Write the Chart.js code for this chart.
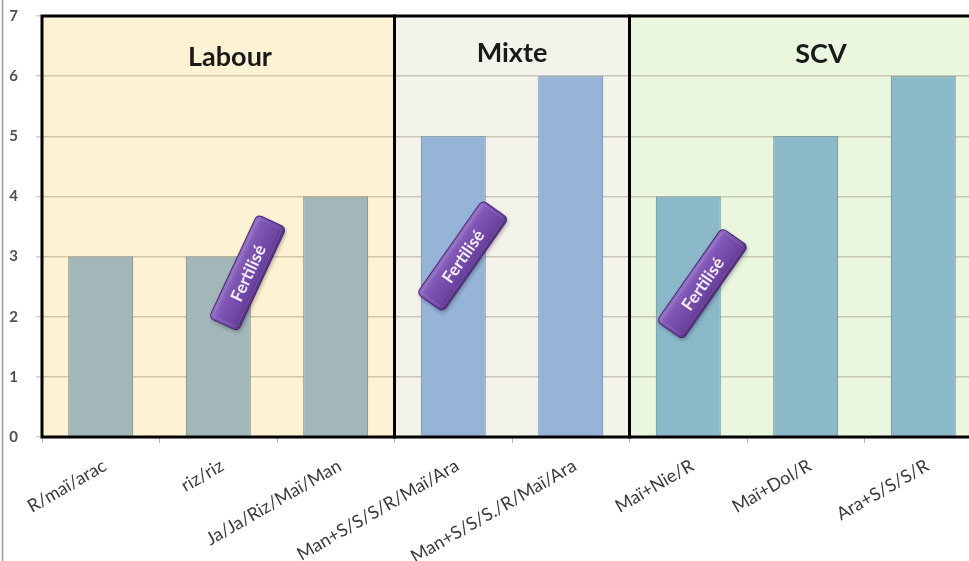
<!DOCTYPE html>
<html>
<head>
<meta charset="utf-8">
<script src="https://cdn.jsdelivr.net/npm/chart.js@4"></script>
<style>
  html, body { margin: 0; padding: 0; background: #fff; overflow: hidden; width: 969px; height: 561px; }
  #wrap { position: relative; width: 990px; height: 561px; }
</style>
</head>
<body>
<div id="wrap"><canvas id="c"></canvas></div>
<script>
// Rotation systems and their scores
const categories = ['R/maï/arac', 'riz/riz', 'Ja/Ja/Riz/Maï/Man', 'Man+S/S/S/R/Maï/Ara',
                    'Man+S/S/S./R/Maï/Ara', 'Maï+Nie/R', 'Maï+Dol/R', 'Ara+S/S/S/R'];
const values = [3, 3, 4, 5, 6, 4, 5, 6];
const yTicks = [0, 1, 2, 3, 4, 5, 6, 7];
const groups = ['Labour', 'Mixte', 'SCV'];
const groupOf = [0, 0, 0, 1, 1, 2, 2, 2];
const fertilised = ['riz/riz', 'Man+S/S/S/R/Maï/Ara', 'Maï+Nie/R'];

// Look of each group
const panelFill = ['#FDF3D4', '#F3F2EB', '#EBF6DF'];
const barFill = ['#A3B6B9', '#95B4D8', '#8BB9CA'];
const barEdge = ['#68797A', '#62809F', '#55828F'];

// Where titles and tags sit (category offset / value units)
const titlePos = [{ at: 1.1, base: 66 }, { at: 3.5, base: 62 }, { at: 6.13, base: 63 }];
const tagPos = [{ dx: 0.25, v: 2.73, rot: -65 }, { dx: 0.08, v: 3.01, rot: -55 }, { dx: 0.12, v: 2.55, rot: -55 }];

const FONT = 'Lato, "Open Sans", sans-serif';

function catGeom(chart) {
  const x = chart.scales.x;
  const w = x.getPixelForValue(1) - x.getPixelForValue(0);
  return { x0: x.getPixelForValue(0), w };
}

function panelBounds(chart) {
  const { x0, w } = catGeom(chart);
  return groups.map((g, gi) => {
    const idx = groupOf.map((v, i) => v === gi ? i : -1).filter(i => i >= 0);
    return { left: x0 + (idx[0] - 0.5) * w, right: x0 + (idx[idx.length - 1] + 0.5) * w };
  });
}

const panels = {
  id: 'panels',
  beforeDraw(chart) {
    const { ctx, chartArea: a } = chart;
    ctx.save();
    panelBounds(chart).forEach((p, gi) => {
      ctx.fillStyle = panelFill[gi];
      ctx.fillRect(p.left, a.top, p.right - p.left, a.bottom - a.top);
    });
    ctx.restore();
  },
  afterDatasetsDraw(chart) {
    const { ctx, chartArea: a } = chart;
    const { x0, w } = catGeom(chart);
    ctx.save();
    // panel frames
    ctx.strokeStyle = '#000';
    ctx.lineWidth = 3;
    panelBounds(chart).forEach(p => {
      ctx.strokeRect(p.left, a.top, p.right - p.left, a.bottom - a.top);
    });
    // panel titles
    ctx.fillStyle = '#1a1a1a';
    ctx.font = 'bold 27px ' + FONT;
    ctx.textAlign = 'center';
    ctx.textBaseline = 'alphabetic';
    groups.forEach((g, gi) => {
      ctx.fillText(g, x0 + titlePos[gi].at * w, titlePos[gi].base);
    });
    // "Fertilisé" tags
    const y = chart.scales.y;
    fertilised.forEach((name, k) => {
      const i = categories.indexOf(name);
      const t = tagPos[k];
      const cx = x0 + (i + t.dx) * w;
      const cy = y.getPixelForValue(t.v);
      const L = 114, H = 32, r = 5;
      ctx.save();
      ctx.translate(cx, cy);
      ctx.rotate(t.rot * Math.PI / 180);
      ctx.shadowColor = 'rgba(0,0,0,0.35)';
      ctx.shadowBlur = 4;
      ctx.shadowOffsetX = 1;
      ctx.shadowOffsetY = 2;
      const g = ctx.createLinearGradient(0, -H / 2, 0, H / 2);
      g.addColorStop(0, '#9573C6');
      g.addColorStop(0.25, '#7F56B5');
      g.addColorStop(0.8, '#6E44A3');
      g.addColorStop(1, '#55307F');
      ctx.beginPath();
      ctx.roundRect(-L / 2, -H / 2, L, H, r);
      ctx.fillStyle = g;
      ctx.fill();
      ctx.shadowColor = 'transparent';
      ctx.strokeStyle = '#4B2878';
      ctx.lineWidth = 1;
      ctx.stroke();
      // bevel highlight
      ctx.beginPath();
      ctx.roundRect(-L / 2 + 3, -H / 2 + 3, L - 6, H - 6, 3);
      ctx.strokeStyle = 'rgba(255,255,255,0.12)';
      ctx.stroke();
      ctx.fillStyle = '#F4EEFA';
      ctx.font = 'bold 17px ' + FONT;
      ctx.textAlign = 'center';
      ctx.textBaseline = 'middle';
      ctx.fillText('Fertilisé', 0, 1);
      ctx.restore();
    });
    ctx.restore();
  },
  afterDraw(chart) {
    const { ctx } = chart;
    ctx.save();
    ctx.strokeStyle = '#9C9C9C';
    ctx.lineWidth = 1.5;
    ctx.beginPath();
    ctx.moveTo(2.5, 0);
    ctx.lineTo(2.5, 561);
    ctx.stroke();
    ctx.restore();
  }
};

new Chart(document.getElementById('c'), {
  type: 'bar',
  data: {
    labels: categories,
    datasets: [{
      data: values,
      backgroundColor: groupOf.map(g => barFill[g]),
      borderColor: groupOf.map(g => barEdge[g]),
      borderWidth: 1,
      categoryPercentage: 1,
      barPercentage: 0.553
    }]
  },
  options: {
    responsive: true,
    maintainAspectRatio: false,
    animation: false,
    layout: { padding: { top: 16, right: 8, left: 0, bottom: 0 } },
    plugins: { legend: { display: false }, tooltip: { enabled: false } },
    scales: {
      x: {
        offset: true,
        border: { display: false },
        grid: { offset: true, drawOnChartArea: false, drawTicks: true, tickLength: 6, color: '#B8B8B8' },
        ticks: {
          autoSkip: false, minRotation: 30, maxRotation: 30, padding: 12, labelOffset: 4,
          color: '#3A3A3A', font: { family: FONT, size: 18 }
        },
        afterFit(s) { s.height = 124; }
      },
      y: {
        min: 0, max: 7,
        border: { display: false },
        grid: { color: 'rgba(110,100,70,0.3)', lineWidth: 1.5, tickLength: 6 },
        ticks: {
          stepSize: 1, padding: 18, color: '#505050',
          font: { family: FONT, size: 15, weight: 'bold' },
          callback: (v) => yTicks.includes(v) ? String(v) : ''
        },
        afterFit(s) { s.width = 42; s.paddingTop = 8; s.paddingBottom = 8; }
      }
    }
  },
  plugins: [panels]
});
</script>
</body>
</html>
